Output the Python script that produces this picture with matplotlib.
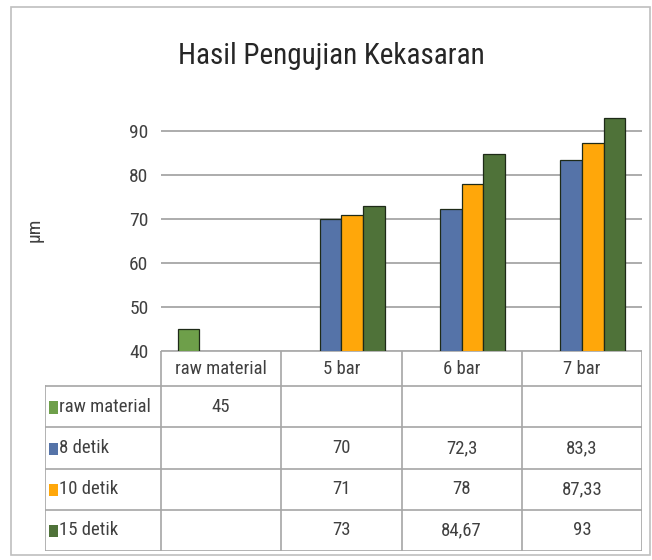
import numpy as np
import matplotlib
matplotlib.use("Agg")
import matplotlib.pyplot as plt
from matplotlib.patches import Rectangle

plt.rcParams['font.family'] = ['Roboto Condensed', 'DejaVu Sans']

# data
categories = ['raw material', '5 bar', '6 bar', '7 bar']
series = ['raw material', '8 detik', '10 detik', '15 detik']
raw_material = [45, None, None, None]
detik_8 = [None, 70, 72.3, 83.3]
detik_10 = [None, 71, 78, 87.33]
detik_15 = [None, 73, 84.67, 93]
values = [raw_material, detik_8, detik_10, detik_15]
colors = ['#6E9F4A', '#5573A8', '#FFA70A', '#4F7239']

W, H = 652, 560
fig = plt.figure(figsize=(W / 100, H / 100), dpi=100)

def px(x0, y0, x1, y1):
    return [x0 / W, 1 - y1 / H, (x1 - x0) / W, (y1 - y0) / H]

# outer frame
fig.patches.append(Rectangle((11 / W, 1 - 555 / H), 639 / W, 548 / H,
                             transform=fig.transFigure, fill=False,
                             edgecolor='#BFBFBF', lw=1.2))

fig.text(331 / W, 1 - 56 / H, 'Hasil Pengujian Kekasaran', ha='center', va='center',
         fontsize=21, color='#262626')

ax = fig.add_axes(px(161, 109, 642, 351))
n = len(categories)
x = np.arange(n)
bw = 0.18
for i, (name, vals) in enumerate(zip(series, values)):
    xs = [x[j] + (i - 1.5) * bw for j in range(n) if vals[j] is not None]
    hs = [vals[j] for j in range(n) if vals[j] is not None]
    ax.bar(xs, hs, bw, color=colors[i], edgecolor='#1E2A18', lw=0.9, zorder=3, label=name)

ax.set_xlim(-0.5, n - 0.5)
ax.set_ylim(40, 95)
ax.set_yticks(range(40, 91, 10))
ax.yaxis.grid(True, color='#A6A6A6', lw=1.3, zorder=0)
ax.set_xticks([])
for s in ax.spines.values():
    s.set_visible(False)
ax.tick_params(axis='y', length=0, pad=9, labelsize=14, labelcolor='#404040')
ax.set_ylabel('µm', fontsize=14, color='#404040')
ax.yaxis.set_label_coords(-0.245, 0.5)

# data table
tax = fig.add_axes(px(45, 351, 642, 551))
lab_w = 116 / 120.25
tax.set_xlim(-0.5 - lab_w, n - 0.5)
row_h = [0.85, 1, 1, 1, 1]
edges = np.concatenate([[0], np.cumsum(row_h)])
tax.set_ylim(edges[-1], 0)
tax.axis('off')
lc = '#A6A6A6'
fs = 13.5
# header row
for j, c in enumerate(categories):
    tax.text(x[j], row_h[0] / 2, c, ha='center', va='center', fontsize=fs, color='#404040')
for j in range(n + 1):
    tax.plot([j - 0.5, j - 0.5], [0, edges[-1]], color=lc, lw=1.2)
tax.plot([-0.5 - lab_w, -0.5 - lab_w], [edges[1], edges[-1]], color=lc, lw=1.2)
tax.plot([-0.5, n - 0.5], [0, 0], color=lc, lw=1.2)
for k in range(1, len(edges)):
    tax.plot([-0.5 - lab_w, n - 0.5], [edges[k], edges[k]], color=lc, lw=1.2)
for i, (name, vals) in enumerate(zip(series, values)):
    yc = (edges[i + 1] + edges[i + 2]) / 2
    tax.add_patch(Rectangle((-0.5 - lab_w + 0.035, yc - 0.13), 0.075, 0.3,
                            facecolor=colors[i], edgecolor='none'))
    tax.text(-0.5 - lab_w + 0.12, yc, name, ha='left', va='center', fontsize=fs, color='#404040')
    for j in range(n):
        if vals[j] is not None:
            tax.text(x[j], yc, str(vals[j]).replace('.', ','), ha='center', va='center',
                     fontsize=fs, color='#404040')

fig.savefig('out.png', dpi=100)
